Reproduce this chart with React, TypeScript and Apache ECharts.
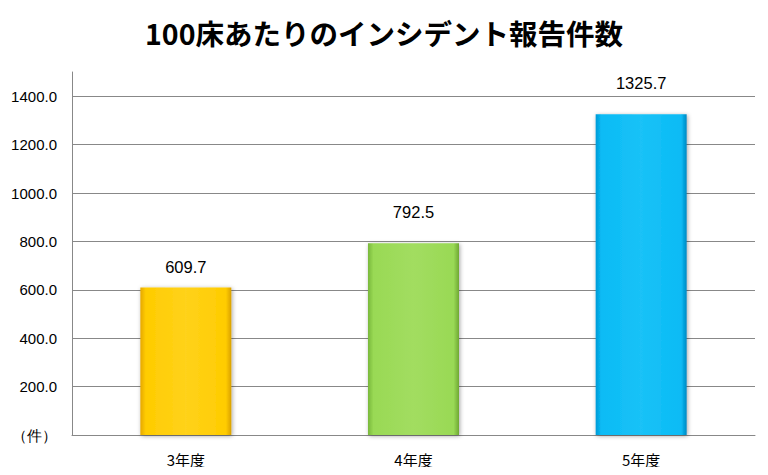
import React, { useEffect, useRef } from "react";
import * as echarts from "echarts";

const title = "100床あたりのインシデント報告件数";
const categories = ["3年度", "4年度", "5年度"];
const values = [609.7, 792.5, 1325.7];
const gridValues = [200, 400, 600, 800, 1000, 1200, 1400];

const barColors = [
  ["#E6A800", "#FFCC00", "#FFD21A", "#FFCC00", "#D9A000"],
  ["#78B83A", "#99D955", "#A2DD60", "#99D955", "#6FA833"],
  ["#0099D6", "#09BBF5", "#1AC2F7", "#09BBF5", "#0088C2"],
];
const labelDistances = [12, 23, 23];

export default function App() {
  const ref = useRef<HTMLDivElement>(null);
  useEffect(() => {
    if (!ref.current) return;
    const chart = echarts.init(ref.current, undefined, { renderer: "svg" });
    const grad = (c: string[]) =>
      new echarts.graphic.LinearGradient(0, 0, 1, 0, [
        { offset: 0, color: c[0] },
        { offset: 0.06, color: c[1] },
        { offset: 0.5, color: c[2] },
        { offset: 0.94, color: c[3] },
        { offset: 1, color: c[4] },
      ]);
    chart.setOption({
      animation: false,
      title: {
        text: title,
        left: "center",
        top: 13,
        textStyle: {
          fontFamily: "Noto Sans CJK JP",
          fontWeight: "bold",
          fontSize: 28.5,
          color: "#000",
        },
      },
      grid: { left: 72, right: 13, top: 72, bottom: 40, containLabel: false },
      xAxis: {
        type: "category",
        data: categories,
        axisLine: { lineStyle: { color: "#888", width: 1 } },
        axisTick: { show: false },
        axisLabel: {
          color: "#000",
          fontSize: 15,
          margin: 17,
          fontFamily: "Noto Sans CJK JP",
        },
      },
      yAxis: {
        type: "value",
        min: 0,
        max: 1500,
        interval: 100,
        axisLine: { show: true, lineStyle: { color: "#888", width: 1 } },
        axisTick: { show: false },
        splitLine: { show: false },
        axisLabel: {
          color: "#000",
          fontSize: 15,
          margin: 15,
          fontFamily: "Liberation Sans",
          formatter: (v: number) => {
            if (v === 0) return "（件）";
            if (v % 200 !== 0 || v > 1400) return "";
            return v.toFixed(1);
          },
        },
      },
      series: [
        {
          type: "bar",
          barWidth: 91,
          data: values.map((v, i) => ({
            value: v,
            itemStyle: {
              color: grad(barColors[i]),
              shadowColor: "rgba(0,0,0,0.35)",
              shadowBlur: 4,
              shadowOffsetX: 1,
              shadowOffsetY: 1,
            },
            label: { distance: labelDistances[i] },
          })),
          label: {
            show: true,
            position: "top",
            color: "#000",
            fontSize: 16.5,
            fontFamily: "Liberation Sans",
            formatter: (p: any) => Number(p.value).toFixed(1),
          },
          markLine: {
            silent: true,
            symbol: "none",
            label: { show: false },
            lineStyle: { color: "#888", type: "solid", width: 1 },
            z: 0,
            data: gridValues.map((g) => ({ yAxis: g })),
          },
          z: 3,
        },
      ],
    });
    return () => chart.dispose();
  }, []);
  return <div ref={ref} style={{ width: 768, height: 475, margin: -8 }} />;
}
